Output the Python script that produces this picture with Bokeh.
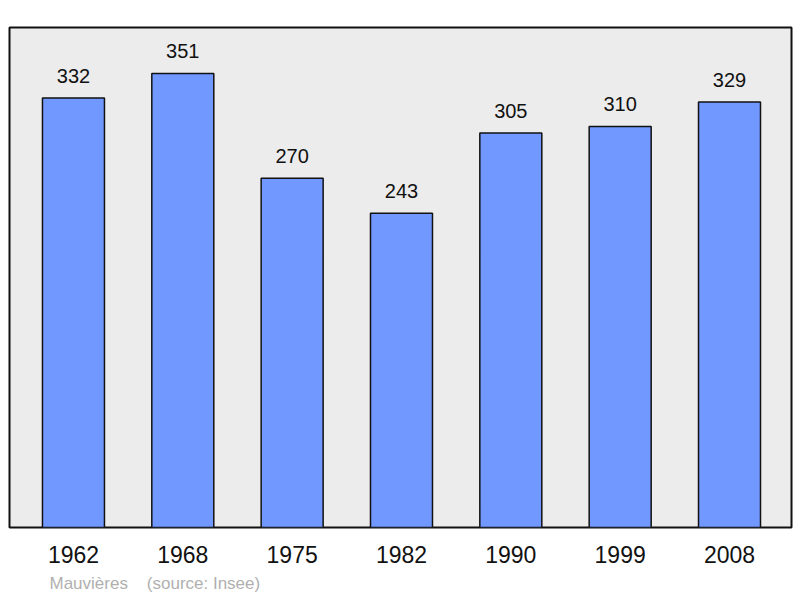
from bokeh.plotting import figure
from bokeh.models import Range1d, FixedTicker, ColumnDataSource, LabelSet, Title
from bokeh.core.properties import value
from bokeh.embed import file_html
from bokeh.resources import INLINE

years = ["1962", "1968", "1975", "1982", "1990", "1999", "2008"]
population = [332, 351, 270, 243, 305, 310, 329]
commune = "Mauvières"
source_note = "(source: Insee)"

xs = list(range(len(years)))
src = ColumnDataSource(data=dict(x=xs, top=population, lab=[str(v) for v in population]))

p = figure(width=800, height=598, output_backend="svg", toolbar_location=None,
           x_range=Range1d(-0.585, 6.567), y_range=Range1d(0, 386.5),
           min_border_left=9, min_border_right=9, min_border_top=27, min_border_bottom=70)

p.background_fill_color = "#ececec"
p.border_fill_color = "white"
p.outline_line_color = "#111111"
p.outline_line_width = 2
p.grid.visible = False
p.yaxis.visible = False

p.vbar(x="x", top="top", bottom=0, width=0.567, source=src,
       fill_color="#7098ff", line_color="#111111", line_width=1.5)

labels = LabelSet(x="x", y="top", text="lab", source=src, text_align="center",
                  text_baseline="bottom", y_offset=15, text_font=value("Liberation Sans"),
                  text_font_size=value("20px"), text_color="#111111")
p.add_layout(labels)

ax = p.xaxis[0]
ax.ticker = FixedTicker(ticks=xs)
ax.major_label_overrides = {i: y for i, y in zip(xs, years)}
ax.axis_line_color = None
ax.major_tick_line_color = None
ax.minor_tick_line_color = None
ax.major_tick_out = 0
ax.major_label_standoff = 18
ax.major_label_text_font = "Liberation Sans"
ax.major_label_text_font_size = "23px"
ax.major_label_text_color = "#111111"

note = Title(text=commune + "\u00a0\u00a0\u00a0\u00a0" + source_note, align="left",
             offset=40, text_font="Liberation Sans", text_font_size="17px",
             text_font_style="normal", text_color="#b0b0b0", standoff=12)
p.add_layout(note, "below")

open("out.html", "w").write(file_html(p, INLINE))
